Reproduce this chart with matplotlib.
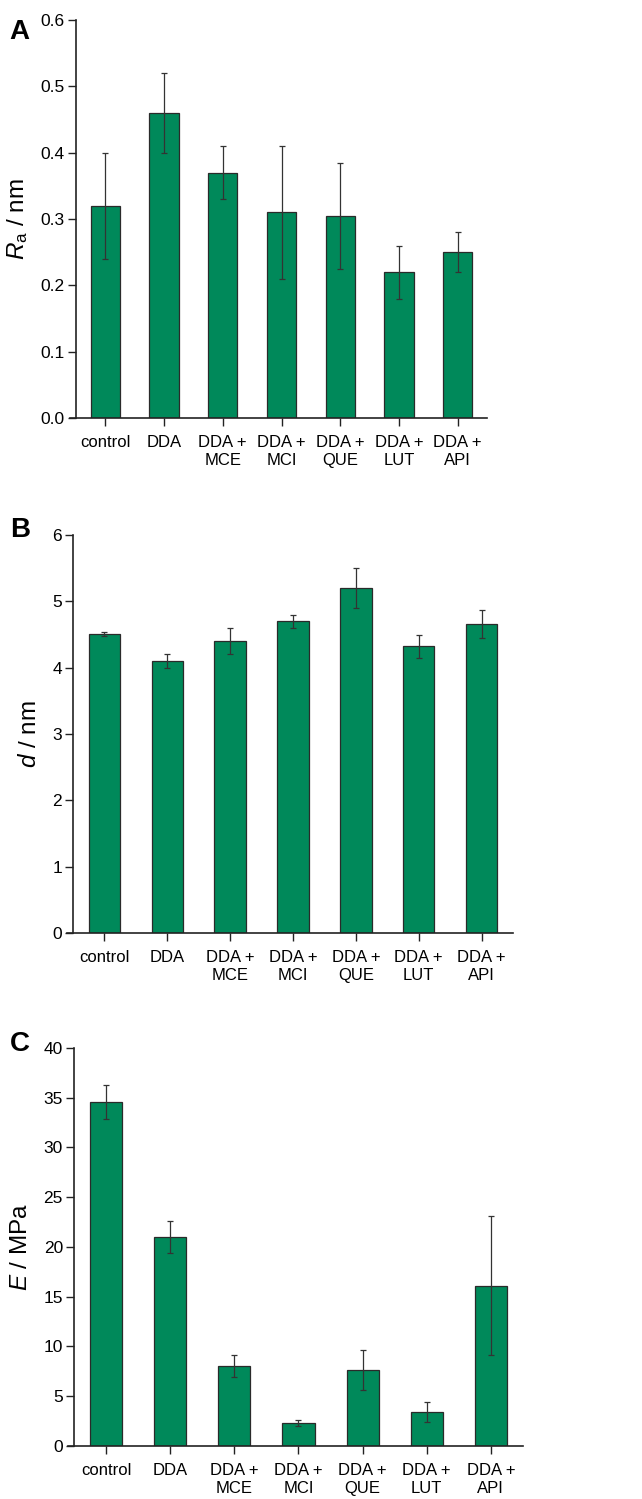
import numpy as np
import matplotlib
matplotlib.use("Agg")
import matplotlib.pyplot as plt

plt.rcParams['font.family'] = ['Liberation Sans', 'DejaVu Sans']
plt.rcParams['mathtext.fontset'] = 'custom'
plt.rcParams['mathtext.rm'] = 'Liberation Sans'
plt.rcParams['mathtext.it'] = 'Liberation Sans:italic'

categories = ["control", "DDA", "DDA +\nMCE", "DDA +\nMCI", "DDA +\nQUE", "DDA +\nLUT", "DDA +\nAPI"]

ra_mean = [0.32, 0.46, 0.37, 0.31, 0.305, 0.22, 0.25]
ra_err = [0.08, 0.06, 0.04, 0.10, 0.08, 0.04, 0.03]

d_mean = [4.5, 4.1, 4.4, 4.7, 5.2, 4.32, 4.66]
d_err = [0.03, 0.1, 0.2, 0.1, 0.3, 0.17, 0.21]

e_mean = [34.6, 21.0, 8.0, 2.3, 7.6, 3.4, 16.1]
e_err = [1.7, 1.6, 1.1, 0.3, 2.0, 1.0, 7.0]

green = "#00895a"

fig = plt.figure(figsize=(6.42, 14.99), dpi=100)

panels = [
    ("A", [0.1184, 0.7211, 0.6402, 0.2656], ra_mean, ra_err, (0, 0.6), np.arange(0, 0.61, 0.1),
     "{:.1f}", r"$\mathit{R}_\mathregular{a}$ / nm", 0.987),
    ("B", [0.1137, 0.3776, 0.6853, 0.2655], d_mean, d_err, (0, 6), np.arange(0, 7, 1),
     "{:.0f}", r"$\mathit{d}$ / nm", 0.655),
    ("C", [0.1153, 0.0354, 0.6993, 0.2655], e_mean, e_err, (0, 40), np.arange(0, 41, 5),
     "{:.0f}", r"$\mathit{E}$ / MPa", 0.312),
]

for letter, rect, vals, errs, ylim, yticks, fmt, ylabel, ly in panels:
    ax = fig.add_axes(rect)
    x = np.arange(len(categories))
    ax.bar(x, vals, width=0.5, color=green, edgecolor="#2a2a2a", linewidth=0.9,
           yerr=errs, error_kw=dict(ecolor="#333333", elinewidth=0.9, capsize=2.5, capthick=0.9))
    ax.set_xlim(-0.5, 6.5)
    ax.set_ylim(*ylim)
    ax.set_yticks(yticks)
    ax.set_yticklabels([fmt.format(t) for t in yticks])
    ax.set_xticks(x)
    ax.set_xticklabels(categories, linespacing=1.3)
    for s in ["top", "right"]:
        ax.spines[s].set_visible(False)
    for s in ["left", "bottom"]:
        ax.spines[s].set_linewidth(1.2)
        ax.spines[s].set_color("#222222")
    ax.spines["bottom"].set_bounds(-0.6, 6.5)
    ax.tick_params(axis="both", direction="out", length=6, width=1.0,
                   colors="#222222", labelcolor="black")
    ax.tick_params(axis="y", pad=2, labelsize=12.5)
    ax.tick_params(axis="x", pad=6, labelsize=12)
    ax.set_ylabel(ylabel, fontsize=17.5, labelpad=8)
    fig.text(0.015, ly, letter, fontsize=20, fontweight="bold", va="top", ha="left")

fig.savefig("out.png", dpi=100)
